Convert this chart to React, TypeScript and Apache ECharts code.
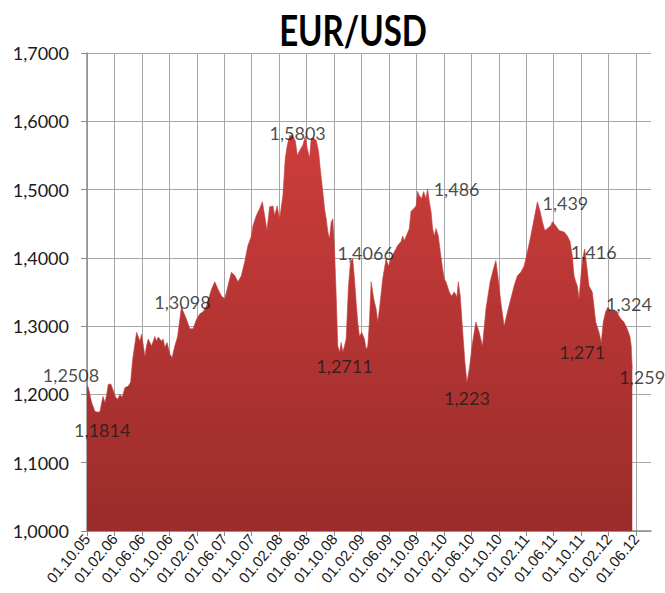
import React, { useEffect, useRef } from "react";
import * as echarts from "echarts";

// X axis tick labels (every 4 months, starting 01.10.2005)
const tickLabels = [
  "01.10.05", "01.02.06", "01.06.06", "01.10.06", "01.02.07", "01.06.07", "01.10.07",
  "01.02.08", "01.06.08", "01.10.08", "01.02.09", "01.06.09", "01.10.09", "01.02.10",
  "01.06.10", "01.10.10", "01.02.11", "01.06.11", "01.10.11", "01.02.12", "01.06.12",
];

// Months elapsed since 01.10.2005
const monthIndex = [
  0, 0.19, 0.68, 1.16, 1.64, 1.89, 2.14, 2.33, 2.62, 2.87, 3.1, 3.49, 3.78, 4.17, 4.47, 4.8,
  5.13, 5.53, 6.0, 6.36, 6.65, 6.98, 7.23, 7.46, 7.71, 7.96, 8.44, 8.67, 8.92, 9.41, 9.89,
  10.14, 10.37, 10.87, 11.1, 11.35, 11.68, 12.07, 12.41, 12.8, 13.19, 13.53, 13.77, 14.0,
  14.5, 14.98, 15.46, 15.96, 16.44, 16.92, 17.41, 18.14, 18.62, 19.1, 19.59, 20.07, 20.55,
  21.05, 21.53, 22.01, 22.5, 22.98, 23.46, 23.96, 24.19, 24.68, 25.16, 25.56, 25.89, 26.23,
  26.62, 27.1, 27.35, 27.71, 28.07, 28.55, 28.9, 29.19, 29.53, 30.0, 30.36, 30.65, 30.98,
  31.46, 31.81, 32.1, 32.44, 32.68, 33.06, 33.41, 33.75, 34.04, 34.37, 34.62, 34.87, 35.1,
  35.35, 35.6, 35.83, 36.07, 36.32, 36.55, 36.8, 37.05, 37.28, 37.53, 37.77, 38.11, 38.4,
  38.73, 38.98, 39.23, 39.46, 39.71, 40.04, 40.44, 40.68, 40.92, 41.16, 41.41, 41.79, 42.14,
  42.37, 42.62, 43.1, 43.59, 43.93, 44.32, 44.8, 45.28, 45.77, 46.01, 46.25, 46.65, 46.98,
  47.22, 47.6, 47.96, 48.19, 48.44, 48.77, 49.06, 49.41, 49.64, 49.89, 50.14, 50.37, 50.62,
  50.87, 51.2, 51.49, 51.83, 52.07, 52.32, 52.8, 53.13, 53.53, 53.92, 54.11, 54.4, 54.73,
  55.08, 55.37, 55.71, 56.19, 56.68, 57.16, 57.64, 58.14, 58.76, 59.24, 59.59, 59.93, 60.32,
  60.8, 61.28, 61.77, 62.25, 62.74, 63.23, 63.71, 64.19, 64.68, 65.16, 65.64, 66.04, 66.37,
  66.72, 67.1, 67.59, 67.83, 68.32, 68.8, 69.53, 70.01, 70.4, 70.73, 70.98, 71.23, 71.46,
  71.71, 72.04, 72.33, 72.54, 72.83, 73.16, 73.64, 73.89, 74.14, 74.62, 74.95, 75.24, 75.59,
  75.93, 76.32, 76.8, 77.19, 77.53, 77.86, 78.25, 78.73, 79.13, 79.32, 79.47,
];

// EUR/USD rate
const rates = [
  1.213, 1.21, 1.188, 1.175, 1.174, 1.175, 1.188, 1.197, 1.188, 1.2, 1.215, 1.215, 1.207, 1.196,
  1.193, 1.2, 1.196, 1.21, 1.212, 1.218, 1.251, 1.274, 1.291, 1.285, 1.278, 1.288, 1.256, 1.271,
  1.281, 1.271, 1.285, 1.278, 1.284, 1.278, 1.281, 1.269, 1.276, 1.259, 1.254, 1.271, 1.284,
  1.31, 1.329, 1.322, 1.31, 1.296, 1.296, 1.31, 1.318, 1.321, 1.329, 1.354, 1.365, 1.354, 1.344,
  1.34, 1.359, 1.379, 1.374, 1.365, 1.374, 1.394, 1.418, 1.432, 1.447, 1.462, 1.472, 1.482,
  1.462, 1.44, 1.475, 1.476, 1.462, 1.476, 1.457, 1.491, 1.546, 1.565, 1.579, 1.579, 1.571,
  1.55, 1.557, 1.565, 1.578, 1.56, 1.546, 1.575, 1.575, 1.572, 1.556, 1.526, 1.497, 1.472,
  1.457, 1.438, 1.428, 1.453, 1.457, 1.413, 1.344, 1.271, 1.262, 1.276, 1.262, 1.271, 1.281,
  1.359, 1.394, 1.399, 1.369, 1.335, 1.306, 1.285, 1.291, 1.281, 1.266, 1.271, 1.306, 1.365,
  1.34, 1.325, 1.306, 1.325, 1.369, 1.399, 1.388, 1.399, 1.409, 1.418, 1.424, 1.432, 1.425,
  1.435, 1.443, 1.468, 1.472, 1.476, 1.497, 1.491, 1.487, 1.497, 1.487, 1.501, 1.482, 1.468,
  1.443, 1.432, 1.443, 1.432, 1.409, 1.384, 1.369, 1.365, 1.35, 1.344, 1.35, 1.343, 1.365,
  1.344, 1.296, 1.247, 1.218, 1.237, 1.276, 1.306, 1.291, 1.271, 1.325, 1.365, 1.384, 1.396,
  1.369, 1.335, 1.3, 1.321, 1.34, 1.359, 1.374, 1.379, 1.388, 1.409, 1.432, 1.457, 1.482,
  1.468, 1.453, 1.44, 1.443, 1.447, 1.453, 1.447, 1.44, 1.438, 1.432, 1.424, 1.403, 1.374,
  1.365, 1.359, 1.34, 1.379, 1.403, 1.413, 1.388, 1.359, 1.35, 1.329, 1.306, 1.291, 1.276,
  1.306, 1.321, 1.328, 1.322, 1.322, 1.322, 1.315, 1.31, 1.306, 1.296, 1.285, 1.271, 1.237,
];

// Annotated values
const annotationText = [
  "1,2508", "1,1814", "1,3098", "1,5803", "1,2711", "1,4066", "1,486",
  "1,223", "1,439", "1,416", "1,271", "1,324", "1,259",
];
const annotationMonth = [0, 1.64, 13.77, 29.53, 36.8, 38.73, 49.64, 55.37, 65.64, 72.54, 74.95, 75.93, 79.47];
const annotationValue = [1.2508, 1.1814, 1.3098, 1.5803, 1.2711, 1.4066, 1.486, 1.223, 1.439, 1.416, 1.271, 1.324, 1.259];

// Label placement (pixel offsets from the anchor)
const annotationOffset = [
  [-16, 15], [4, 23], [1, -17], [8, -2], [5, 20], [13, 0], [29, -10],
  [0, 19], [28, -28], [9, 5], [-19, 6], [21, -6], [10, 23],
];

const GRID_COLOR = "#a6a6a6";
const AXIS_COLOR = "#8c8c8c";
const TEXT_COLOR = "#1a1a1a";

export default function App() {
  const ref = useRef<HTMLDivElement>(null);

  useEffect(() => {
    if (!ref.current) return;
    const chart = echarts.init(ref.current, null, { renderer: "svg" });
    const seriesData = monthIndex.map((m, i) => [m, rates[i]]);
    const annData = annotationText.map((t, i) => ({
      value: [annotationMonth[i], annotationValue[i]],
      label: { formatter: t, offset: annotationOffset[i] },
    }));

    chart.setOption({
      animation: false,
      backgroundColor: "#ffffff",
      graphic: [
        {
          type: "text",
          x: 353,
          y: 30,
          scaleY: 1.25,
          style: {
            text: "EUR/USD",
            font: "bold 33px Lato",
            fill: "#000000",
            align: "center",
            verticalAlign: "middle",
            textAlign: "center",
            textVerticalAlign: "middle",
          },
        },
      ],
      grid: [
        { left: 87, top: 53, right: 14, bottom: 62 },
        { left: 87, top: 53, width: 549, height: 478 },
      ],
      xAxis: [
        {
          gridIndex: 0,
          type: "value",
          min: 0,
          max: 82.2,
          axisLine: { show: true, lineStyle: { color: AXIS_COLOR, width: 1.5 } },
          axisTick: { show: false },
          axisLabel: { show: false },
          splitLine: { show: false },
        },
        {
          gridIndex: 1,
          type: "value",
          min: 0,
          max: 80,
          interval: 4,
          axisLine: { show: false },
          axisTick: { show: true, length: 5, lineStyle: { color: AXIS_COLOR } },
          axisLabel: {
            rotate: 50,
            margin: 5,
            fontFamily: "Liberation Sans, Arial, sans-serif",
            fontSize: 15,
            color: TEXT_COLOR,
            formatter: (v: number) => (Math.abs(v % 4) < 1e-6 ? tickLabels[Math.round(v / 4)] ?? "" : ""),
          },
          splitLine: { show: true, lineStyle: { color: GRID_COLOR, width: 1 } },
        },
      ],
      yAxis: [
        {
          gridIndex: 0,
          type: "value",
          min: 1,
          max: 1.7,
          interval: 0.1,
          axisLine: { show: true, lineStyle: { color: AXIS_COLOR, width: 1.5 } },
          axisTick: { show: true, length: 6, lineStyle: { color: AXIS_COLOR } },
          axisLabel: {
            margin: 18,
            fontFamily: "Lato, sans-serif",
            fontSize: 18,
            color: TEXT_COLOR,
            formatter: (v: number) => v.toFixed(4).replace(".", ","),
          },
          splitLine: { show: true, lineStyle: { color: GRID_COLOR, width: 1 } },
        },
        { gridIndex: 1, type: "value", min: 1, max: 1.7, show: false },
      ],
      series: [
        {
          type: "line",
          xAxisIndex: 0,
          yAxisIndex: 0,
          data: seriesData,
          showSymbol: false,
          symbol: "none",
          smooth: false,
          lineStyle: { width: 1, color: "rgba(200,62,60,0.6)" },
          areaStyle: {
            origin: "start",
            opacity: 1,
            color: new echarts.graphic.LinearGradient(0, 0, 0, 1, [
              { offset: 0, color: "#cc3d3b" },
              { offset: 1, color: "#9a2c2b" },
            ]),
          },
          z: 3,
        },
        {
          type: "scatter",
          xAxisIndex: 0,
          yAxisIndex: 0,
          data: annData,
          symbolSize: 0,
          clip: false,
          silent: true,
          label: {
            show: true,
            position: "inside",
            fontFamily: "Lato, sans-serif",
            fontSize: 18,
            color: TEXT_COLOR,
          },
          z: 5,
        },
      ],
    });

    return () => chart.dispose();
  }, []);

  return <div ref={ref} style={{ position: "fixed", left: 0, top: 0, width: 665, height: 593 }} />;
}
